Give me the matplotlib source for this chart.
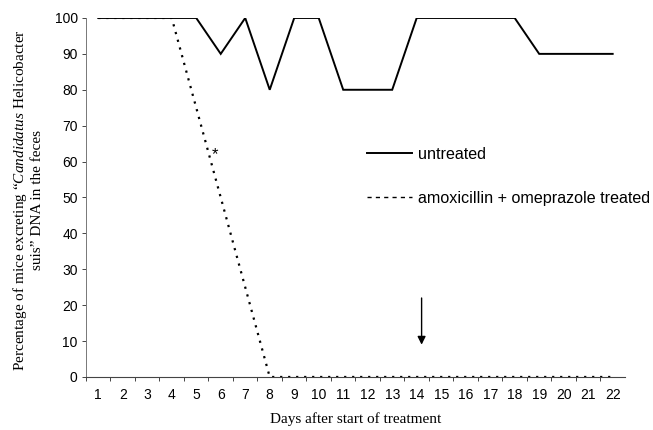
import matplotlib
matplotlib.use("Agg")
import matplotlib.pyplot as plt
from matplotlib.lines import Line2D

plt.rcParams['mathtext.fontset'] = 'custom'
plt.rcParams['mathtext.rm'] = 'Liberation Serif'
plt.rcParams['mathtext.it'] = 'Liberation Serif:italic'

days = list(range(1, 23))
untreated = [100, 100, 100, 100, 100, 90, 100, 80, 100, 100, 80, 80, 80,
             100, 100, 100, 100, 100, 90, 90, 90, 90]
treated_days = [1, 2, 3, 4, 8, 9, 10, 11, 12, 13, 14, 15, 16, 17, 18, 19, 20, 21, 22]
treated = [100, 100, 100, 100, 0, 0, 0, 0, 0, 0, 0, 0, 0, 0, 0, 0, 0, 0, 0]
yticks = list(range(0, 101, 10))
asterisk_day, asterisk_val = 5.75, 62
arrow_day, arrow_top, arrow_bottom = 14.2, 22, 9

fig = plt.figure(figsize=(6.53, 4.30), dpi=100)
ax = fig.add_axes([0.1317, 0.1233, 0.8253, 0.8349])

sans = 'Liberation Sans'
serif = 'Liberation Serif'

l1, = ax.plot(days, untreated, color='black', lw=1.4, solid_joinstyle='miter')
l2, = ax.plot(treated_days, treated, color='black', lw=1.6,
              linestyle=(0, (1, 2.6)), dash_capstyle='butt')

ax.set_xlim(0.5, 22.5)
ax.set_ylim(0, 100)
ax.set_xticks(days)
ax.set_xticklabels([str(d) for d in days], fontfamily=sans, fontsize=10)
ax.set_xticks([d + 0.5 for d in days[:-1]] + [0.5], minor=True)
ax.tick_params(axis='x', which='major', length=0, pad=8)
ax.tick_params(axis='x', which='minor', length=3, width=0.7, direction='out', color='#444444')
ax.set_yticks(yticks)
ax.set_yticklabels([str(v) for v in yticks], fontfamily=sans, fontsize=10)
ax.tick_params(axis='y', length=3, width=0.7, direction='out', color='#444444', pad=3)

for s in ['top', 'right']:
    ax.spines[s].set_visible(False)
ax.spines['left'].set_color('#777777')
ax.spines['left'].set_linewidth(0.7)
ax.spines['bottom'].set_color('#444444')
ax.spines['bottom'].set_linewidth(0.8)

ax.text(asterisk_day, asterisk_val, '*', fontsize=12, fontfamily=sans,
        ha='center', va='center')
ax.annotate('', xy=(arrow_day, arrow_bottom), xytext=(arrow_day, arrow_top),
            arrowprops=dict(arrowstyle='-|>', color='black', lw=1.0,
                            mutation_scale=12, shrinkA=0, shrinkB=0))

leg = ax.legend([l1, Line2D([], [], color='black', lw=1.0, linestyle=(0, (3, 3)))],
                ['untreated', 'amoxicillin + omeprazole treated'],
                loc='upper left', bbox_to_anchor=(0.521, 0.641), frameon=False,
                prop={'family': sans, 'size': 11.6}, handlelength=2.8,
                handletextpad=0.37, labelspacing=1.8, borderaxespad=0,
                borderpad=0)

ax.set_xlabel('Days after start of treatment', fontfamily=serif, fontsize=11, labelpad=7)
fig.text(0.031, 0.535, r'Percentage of mice excreting “$\it{Candidatus}$ Helicobacter',
         rotation=90, ha='center', va='center', fontfamily=serif, fontsize=11)
fig.text(0.058, 0.535, 'suis” DNA in the feces',
         rotation=90, ha='center', va='center', fontfamily=serif, fontsize=11)

fig.savefig('out.png', dpi=100)
